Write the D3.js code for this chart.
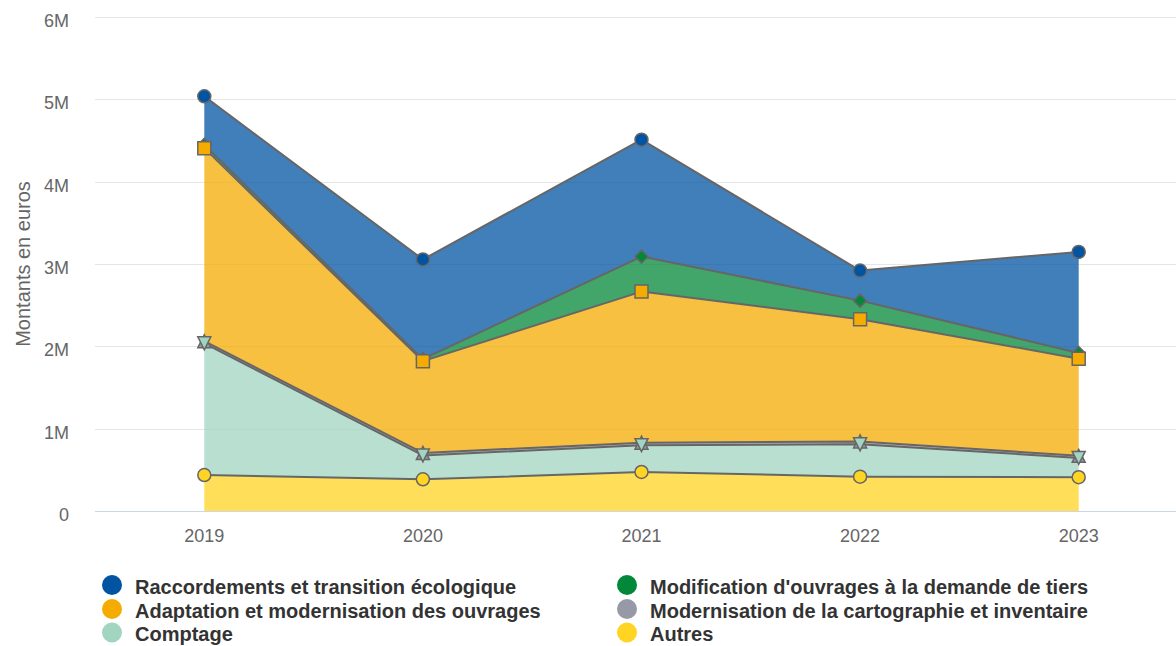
<!DOCTYPE html>
<html lang="fr">
<head>
<meta charset="utf-8">
<script src="https://cdn.jsdelivr.net/npm/d3@7"></script>
<style>
  html, body { margin: 0; padding: 0; background: #fff; }
  svg { display: block; font-family: "Liberation Sans", Arial, Helvetica, sans-serif; }
</style>
</head>
<body>
<svg id="chart" width="1176" height="646"></svg>
<script>
// Years on the x axis
const years = ["2019", "2020", "2021", "2022", "2023"];

// Amounts per category, in euros
const raccordements = [590000, 1210000, 1420000, 365000, 1227000];
const modification  = [40000, 25000, 425000, 225000, 70000];
const adaptation    = [2345000, 1115000, 1835000, 1485000, 1180000];
const cartographie  = [25000, 30000, 30000, 35000, 25000];
const comptage      = [1600000, 290000, 326000, 393000, 235000];
const autres        = [437000, 385000, 474000, 417000, 410000];

// Y axis ticks
const yTicks = [0, 1000000, 2000000, 3000000, 4000000, 5000000, 6000000];
const yTickLabels = ["0", "1M", "2M", "3M", "4M", "5M", "6M"];

// Series in legend order (first one sits on top of the stack)
const series = [
  { key: "rac",  name: "Raccordements et transition écologique", values: raccordements, color: "#0054a2", symbol: "circle" },
  { key: "mod",  name: "Modification d'ouvrages à la demande de tiers", values: modification, color: "#03883a", symbol: "diamond" },
  { key: "ada",  name: "Adaptation et modernisation des ouvrages", values: adaptation, color: "#f6ab00", symbol: "square" },
  { key: "car",  name: "Modernisation de la cartographie et inventaire", values: cartographie, color: "#9899a6", symbol: "triangle" },
  { key: "cpt",  name: "Comptage", values: comptage, color: "#a2d4c2", symbol: "triangle-down" },
  { key: "aut",  name: "Autres", values: autres, color: "#ffd423", symbol: "circle" }
];

const svg = d3.select("#chart");
const W = 1176;
const plot = { left: 95, right: 1188, top: 17, bottom: 511 };

const x = d3.scalePoint().domain(years).range([plot.left, plot.right]).padding(0.5);
const y = d3.scaleLinear().domain([0, 6000000]).range([plot.bottom, plot.top]);

// Rows for d3.stack
const rows = years.map((yr, i) => {
  const r = { year: yr };
  series.forEach(s => { r[s.key] = s.values[i]; });
  return r;
});
const stackKeys = series.map(s => s.key).slice().reverse(); // bottom to top
const stacked = d3.stack().keys(stackKeys)(rows);
const byKey = {};
stacked.forEach(layer => { byKey[layer.key] = layer; });

// Grid lines
svg.append("g").selectAll("line").data(yTicks.filter(t => t > 0)).join("line")
  .attr("x1", plot.left).attr("x2", W)
  .attr("y1", d => Math.round(y(d)) + 0.5).attr("y2", d => Math.round(y(d)) + 0.5)
  .attr("stroke", "#e6e6e6").attr("stroke-width", 1);

// Y tick labels
svg.append("g").selectAll("text").data(yTicks).join("text")
  .attr("x", 69).attr("y", d => y(d) + 10)
  .attr("text-anchor", "end").attr("fill", "#666666").attr("font-size", 18)
  .text((d, i) => yTickLabels[i]);

// Y axis title
svg.append("text")
  .attr("transform", `translate(30, ${(plot.top + plot.bottom) / 2}) rotate(-90)`)
  .attr("text-anchor", "middle").attr("fill", "#666666").attr("font-size", 20)
  .text("Montants en euros");

// Areas, bottom layer first
const area = d3.area()
  .x((d, i) => x(years[i]))
  .y0(d => y(d[0]))
  .y1(d => y(d[1]));
const line = d3.line()
  .x((d, i) => x(years[i]))
  .y(d => y(d[1]));

const gAreas = svg.append("g");
stackKeys.forEach(k => {
  const s = series.find(s => s.key === k);
  gAreas.append("path").datum(byKey[k])
    .attr("d", area).attr("fill", s.color).attr("fill-opacity", 0.75);
});

// X axis line
svg.append("line")
  .attr("x1", plot.left).attr("x2", W)
  .attr("y1", plot.bottom + 0.5).attr("y2", plot.bottom + 0.5)
  .attr("stroke", "#ccd6eb").attr("stroke-width", 1);

// Series outlines
const gLines = svg.append("g");
stackKeys.forEach(k => {
  gLines.append("path").datum(byKey[k])
    .attr("d", line).attr("fill", "none")
    .attr("stroke", "#666666").attr("stroke-width", 2).attr("stroke-linejoin", "round");
});

// Marker shapes
function markerPath(symbol, cx, cy) {
  const r = 6.5;
  switch (symbol) {
    case "square":
      return `M${cx - r},${cy - r}h${2 * r}v${2 * r}h${-2 * r}Z`;
    case "diamond":
      return `M${cx},${cy - r}L${cx + r},${cy}L${cx},${cy + r}L${cx - r},${cy}Z`;
    case "triangle":
      return `M${cx},${cy - r}L${cx + r},${cy + r}L${cx - r},${cy + r}Z`;
    case "triangle-down":
      return `M${cx - r},${cy - r}L${cx + r},${cy - r}L${cx},${cy + r}Z`;
    default:
      return `M${cx - r},${cy}a${r},${r} 0 1,0 ${2 * r},0a${r},${r} 0 1,0 ${-2 * r},0Z`;
  }
}

// Markers, top series first so lower series' markers draw above
const gMarkers = svg.append("g");
series.forEach(s => {
  const layer = byKey[s.key];
  gMarkers.selectAll(null).data(layer).join("path")
    .attr("d", (d, i) => markerPath(s.symbol, x(years[i]), y(d[1])))
    .attr("fill", s.color).attr("stroke", "#666666").attr("stroke-width", 1.5);
});

// Legend: two columns, row-major
const legend = svg.append("g");
const colX = [112, 627];
const rowY = [586, 610, 633.5];
series.forEach((s, i) => {
  const cx = colX[i % 2], cy = rowY[Math.floor(i / 2)];
  legend.append("circle").attr("cx", cx).attr("cy", cy - 1).attr("r", 10).attr("fill", s.color);
  legend.append("text").attr("x", cx + 23).attr("y", cy + 7.5)
    .attr("font-size", 20).attr("font-weight", "bold").attr("fill", "#333333")
    .text(s.name);
});

// X tick labels
svg.append("g").selectAll("text").data(years).join("text")
  .attr("x", d => x(d)).attr("y", 542)
  .attr("text-anchor", "middle").attr("fill", "#666666").attr("font-size", 18)
  .text(d => d);
</script>
</body>
</html>
